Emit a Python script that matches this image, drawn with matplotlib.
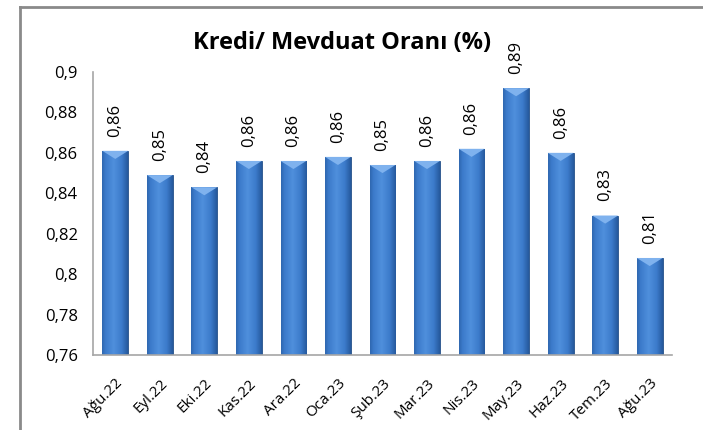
import numpy as np
import matplotlib
matplotlib.use("Agg")
import matplotlib.pyplot as plt
from matplotlib.patches import Polygon
from matplotlib.lines import Line2D

# chart data
months = ["Ağu.22", "Eyl.22", "Eki.22", "Kas.22", "Ara.22", "Oca.23", "Şub.23",
          "Mar.23", "Nis.23", "May.23", "Haz.23", "Tem.23", "Ağu.23"]
ratio = [0.861, 0.849, 0.843, 0.856, 0.856, 0.858, 0.854,
         0.856, 0.862, 0.892, 0.860, 0.829, 0.808]
yticks = [0.76, 0.78, 0.80, 0.82, 0.84, 0.86, 0.88, 0.90]

plt.rcParams['font.family'] = ['Open Sans', 'DejaVu Sans']

fig = plt.figure(figsize=(7.03, 4.30), dpi=100)
ax = fig.add_axes([93 / 703, 1 - 355 / 430, 579 / 703, 283 / 430])

# outer frame (only top and left edges show in the crop)
fx, fy = 19.5 / 703, 1 - 6.5 / 430
fig.lines.append(Line2D([fx, fx], [0, fy], transform=fig.transFigure,
                        color='#8a8a8a', linewidth=2))
fig.lines.append(Line2D([fx, 1], [fy, fy], transform=fig.transFigure,
                        color='#8a8a8a', linewidth=2))

x = np.arange(len(months))
width = 0.58
bars = ax.bar(x, ratio, width=width, color='#3b78c8',
              edgecolor='#244f86', linewidth=0.6, zorder=2)

# horizontal shading so the bars look rounded
grad = np.linspace(0, 1, 64)
shade = 1 - np.abs(grad - 0.45) * 1.6
cmap = matplotlib.colors.LinearSegmentedColormap.from_list(
    'bar', ['#1f4f8f', '#3c7bcb', '#4f8fdc'])
for b, v in zip(bars, ratio):
    x0 = b.get_x()
    im = ax.imshow(shade[np.newaxis, :], cmap=cmap, aspect='auto',
                   extent=(x0, x0 + width, 0.76, v), zorder=2.5, vmin=0, vmax=1)
    im.set_clip_path(b)
    # light chevron at the top of each bar
    tri = Polygon([(x0, v), (x0 + width, v), (x0 + width / 2, v - 0.004)],
                  closed=True, facecolor='#7fb2ee', edgecolor='none', zorder=3)
    ax.add_patch(tri)
    ax.text(x0 + width / 2, v + 0.007, ("%.2f" % v).replace('.', ','),
            rotation=90, ha='center', va='bottom', fontsize=12, zorder=4)

ax.set_xlim(-0.5, len(months) - 0.5)
ax.set_ylim(0.76, 0.90)
ax.set_yticks(yticks)
ax.set_yticklabels([("%g" % t).replace('.', ',') for t in yticks], fontsize=12)
ax.set_xticks(x)
ax.set_xticklabels(months, rotation=45, ha='right', rotation_mode='anchor', fontsize=11)
ax.tick_params(axis='y', length=0, pad=11)
ax.tick_params(axis='x', length=0, pad=15)

for s in ['top', 'right']:
    ax.spines[s].set_visible(False)
for s in ['left', 'bottom']:
    ax.spines[s].set_color('#a6a6a6')
    ax.spines[s].set_linewidth(1.2)

fig.text(0.487, 0.9, "Kredi/ Mevduat Oranı (%)", ha='center', va='center',
         fontsize=17, fontweight='bold')

fig.savefig("out.png", dpi=100)
